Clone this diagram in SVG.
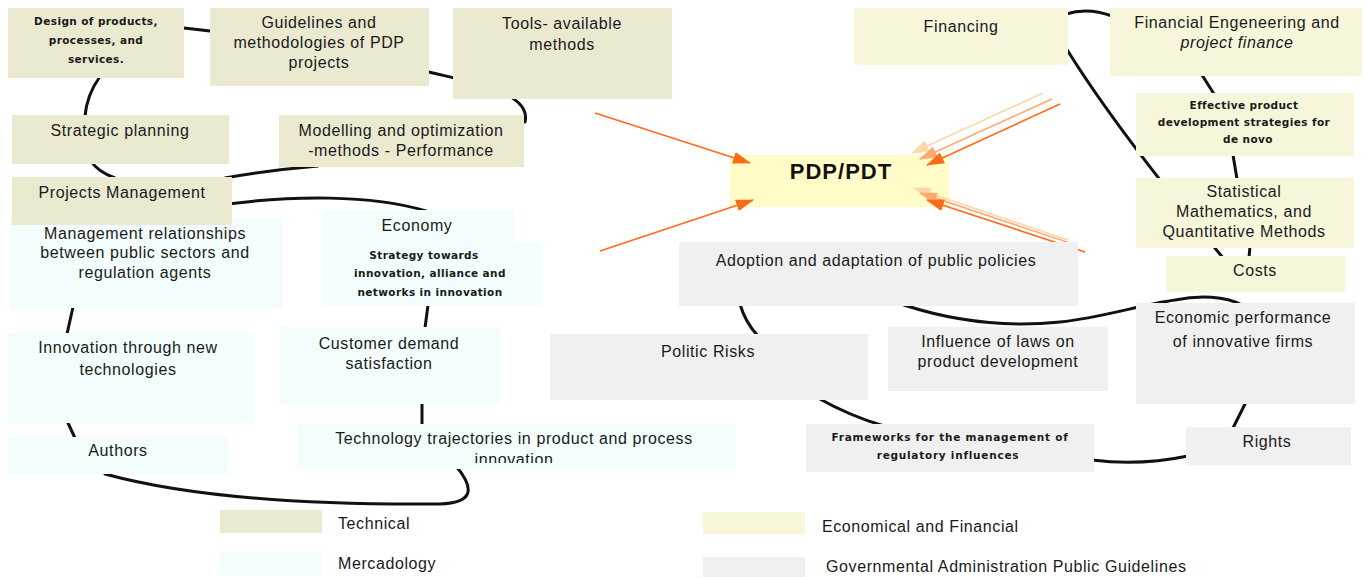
<svg xmlns="http://www.w3.org/2000/svg" width="1365" height="577" viewBox="0 0 1365 577">
<style>
.tech{fill:#EBE9D0}
.merc{fill:#F3FDFE}
.econ{fill:#F8F6DA}
.gov{fill:#F0F0F0}
.pdp{fill:#FFFCC8}
.t{font-family:"Liberation Sans",Arial,sans-serif;font-size:16px;fill:#1a1a1a;text-anchor:middle;letter-spacing:0.6px}
.ti{font-style:italic}
.s{font-family:"DejaVu Sans",Verdana,sans-serif;font-weight:bold;font-size:10.5px;fill:#1a1a1a;text-anchor:middle;letter-spacing:0.4px}
.sw{letter-spacing:0.75px}
.lg{font-family:"Liberation Sans",Arial,sans-serif;font-size:16px;fill:#1a1a1a;letter-spacing:0.6px}
.pt{font-family:"Liberation Sans",Arial,sans-serif;font-weight:bold;font-size:22px;fill:#111;text-anchor:middle;letter-spacing:1px}
.c{fill:none;stroke:#111;stroke-width:3;stroke-linecap:round}
.a1{fill:none;stroke:#FF6A18;stroke-width:1.6}
.a2{fill:none;stroke:#FFAA70;stroke-width:1.6}
.a3{fill:none;stroke:#FFD6A6;stroke-width:1.6}
</style>
<defs>
<marker id="h1" viewBox="0 0 18 12" refX="17" refY="6" markerWidth="18" markerHeight="12" markerUnits="userSpaceOnUse" orient="auto"><path d="M0,0 L18,6 L0,12 z" fill="#FF6A18"/></marker>
<marker id="h2" viewBox="0 0 18 12" refX="17" refY="6" markerWidth="18" markerHeight="12" markerUnits="userSpaceOnUse" orient="auto"><path d="M0,0 L18,6 L0,12 z" fill="#FFAA70"/></marker>
<marker id="h3" viewBox="0 0 18 12" refX="17" refY="6" markerWidth="18" markerHeight="12" markerUnits="userSpaceOnUse" orient="auto"><path d="M0,0 L18,6 L0,12 z" fill="#FFD6A6"/></marker>
<clipPath id="clipTech"><rect x="297" y="424" width="439" height="39"/></clipPath>
</defs>
<rect width="1365" height="577" fill="#ffffff"/>

<g id="node-pdp">
<rect class="pdp" x="730" y="155" width="219" height="52"/>
<text class="pt" x="841" y="179">PDP/PDT</text>
</g>

<g id="connectors">
<path class="c" d="M184 28 L210 31"/>
<path class="c" d="M429 72 C470 82 532 92 525 122"/>
<path class="c" d="M99 78 Q87 95 85 116"/>
<path class="c" d="M90 160 Q98 172 115 178"/>
<path class="c" d="M225 178 Q270 170 318 166"/>
<path class="c" d="M228 204 C290 196 370 194 426 211"/>
<path class="c" d="M73 307 L67 334"/>
<path class="c" d="M68 423 L75 438"/>
<path class="c" d="M105 474 C200 500 330 505 440 504 C472 503 476 490 456 466"/>
<path class="c" d="M428 305 L425 328"/>
<path class="c" d="M422 403 L422 425"/>
<path class="c" d="M1066 14 Q1088 7 1112 16"/>
<path class="c" d="M1066 48 C1095 95 1150 170 1224 259"/>
<path class="c" d="M1202 75 L1214 94"/>
<path class="c" d="M1233 155 L1237 179"/>
<path class="c" d="M1250 246 L1249 258"/>
<path class="c" d="M904 305 C950 320 1000 328 1060 322 C1100 318 1140 305 1175 300 C1200 295 1225 296 1242 305"/>
<path class="c" d="M1246 402 L1233 428"/>
<path class="c" d="M1092 460 Q1140 466 1188 456"/>
<path class="c" d="M818 398 Q850 416 884 426"/>
<path class="c" d="M740 304 Q745 322 758 336"/>
<path class="a1" d="M595 113 L750 163" marker-end="url(#h1)"/>
<path class="a1" d="M600 251 L753 200" marker-end="url(#h1)"/>
<path class="a3" d="M1043 93 L912 153" marker-end="url(#h3)"/>
<path class="a2" d="M1052 99 L920 159" marker-end="url(#h2)"/>
<path class="a1" d="M1060 104 L927 165" marker-end="url(#h1)"/>
<path class="a3" d="M1068 240 L914 188" marker-end="url(#h3)"/>
<path class="a2" d="M1076 245 L920 193" marker-end="url(#h2)"/>
<path class="a1" d="M1085 252 L927 200" marker-end="url(#h1)"/>
</g>

<g id="node-design">
<rect class="tech" x="8" y="8" width="176" height="70"/>
<text class="s" x="96" y="25">Design of products,</text>
<text class="s" x="96" y="44">processes, and</text>
<text class="s" x="96" y="63">services.</text>
</g>
<g id="node-guidelines">
<rect class="tech" x="210" y="8" width="219" height="78"/>
<text class="t" x="319" y="28">Guidelines and</text>
<text class="t" x="319" y="48">methodologies of PDP</text>
<text class="t" x="319" y="68">projects</text>
</g>
<g id="node-tools">
<rect class="tech" x="453" y="8" width="219" height="91"/>
<text class="t" x="562" y="29">Tools- available</text>
<text class="t" x="562" y="50">methods</text>
</g>
<g id="node-strategic">
<rect class="tech" x="12" y="115" width="217" height="49"/>
<text class="t" x="120" y="136">Strategic planning</text>
</g>
<g id="node-modelling">
<rect class="tech" x="279" y="115" width="245" height="52"/>
<text class="t" x="401" y="136">Modelling and optimization</text>
<text class="t" x="401" y="156">-methods - Performance</text>
</g>
<g id="node-mgmt-rel">
<rect class="merc" x="10" y="218" width="273" height="90"/>
<text class="t" x="145" y="239">Management relationships</text>
<text class="t" x="145" y="258">between public sectors and</text>
<text class="t" x="145" y="278">regulation agents</text>
</g>
<g id="node-projects">
<rect class="tech" x="12" y="177" width="220" height="48"/>
<text class="t" x="122" y="198">Projects Management</text>
</g>
<g id="node-economy">
<rect class="merc" x="322" y="210" width="193" height="40"/>
<text class="t" x="417" y="231">Economy</text>
</g>
<g id="node-strategy">
<rect class="merc" x="322" y="242" width="220" height="64"/>
<text class="s" x="424" y="259">Strategy towards</text>
<text class="s" x="430" y="277">innovation, alliance and</text>
<text class="s" x="430" y="296">networks in innovation</text>
</g>
<g id="node-innovation">
<rect class="merc" x="8" y="333" width="246" height="90"/>
<text class="t" x="128" y="353">Innovation through new</text>
<text class="t" x="128" y="375">technologies</text>
</g>
<g id="node-customer">
<rect class="merc" x="280" y="327" width="221" height="77"/>
<text class="t" x="389" y="349">Customer demand</text>
<text class="t" x="389" y="369">satisfaction</text>
</g>
<g id="node-authors">
<rect class="merc" x="8" y="437" width="220" height="37"/>
<text class="t" x="118" y="456">Authors</text>
</g>
<g id="node-technology">
<rect class="merc" x="297" y="424" width="439" height="45"/>
<g clip-path="url(#clipTech)">
<text class="t" x="514" y="444">Technology trajectories in product and process</text>
<text class="t" x="514" y="465">innovation</text>
</g>
</g>

<g id="node-financing">
<rect class="econ" x="854" y="8" width="214" height="57"/>
<text class="t" x="961" y="32">Financing</text>
</g>
<g id="node-fin-eng">
<rect class="econ" x="1110" y="8" width="252" height="68"/>
<text class="t" x="1237" y="28">Financial Engeneering and</text>
<text class="t ti" x="1237" y="48">project finance</text>
</g>
<g id="node-effective">
<rect class="econ" x="1136" y="93" width="218" height="63"/>
<text class="s" x="1244" y="109">Effective product</text>
<text class="s" x="1244" y="126">development strategies for</text>
<text class="s" x="1248" y="143">de novo</text>
</g>
<g id="node-statistical">
<rect class="econ" x="1136" y="178" width="218" height="70"/>
<text class="t" x="1244" y="197">Statistical</text>
<text class="t" x="1244" y="217">Mathematics, and</text>
<text class="t" x="1244" y="237">Quantitative Methods</text>
</g>
<g id="node-costs">
<rect class="econ" x="1166" y="256" width="179" height="36"/>
<text class="t" x="1255" y="276">Costs</text>
</g>

<g id="node-adoption">
<rect class="gov" x="679" y="242" width="399" height="64"/>
<text class="t" x="876" y="266">Adoption and adaptation of public policies</text>
</g>
<g id="node-politic">
<rect class="gov" x="550" y="334" width="318" height="66"/>
<text class="t" x="708" y="357">Politic Risks</text>
</g>
<g id="node-influence">
<rect class="gov" x="888" y="327" width="220" height="64"/>
<text class="t" x="998" y="347">Influence of laws on</text>
<text class="t" x="998" y="367">product development</text>
</g>
<g id="node-econ-perf">
<rect class="gov" x="1136" y="303" width="219" height="101"/>
<text class="t" x="1243" y="323">Economic performance</text>
<text class="t" x="1243" y="347">of innovative firms</text>
</g>
<g id="node-frameworks">
<rect class="gov" x="806" y="424" width="288" height="48"/>
<text class="s sw" x="950" y="441">Frameworks for the management  of</text>
<text class="s sw" x="948" y="459">regulatory influences</text>
</g>
<g id="node-rights">
<rect class="gov" x="1186" y="427" width="165" height="38"/>
<text class="t" x="1267" y="447">Rights</text>
</g>

<g id="legend">
<rect class="tech" x="220" y="510" width="102" height="23"/>
<text class="lg" x="338" y="529">Technical</text>
<rect class="merc" x="220" y="551" width="102" height="24"/>
<text class="lg" x="338" y="569">Mercadology</text>
<rect class="econ" x="703" y="512" width="102" height="22"/>
<text class="lg" x="822" y="532">Economical and Financial</text>
<rect class="gov" x="703" y="557" width="102" height="20"/>
<text class="lg" x="826" y="572">Governmental Administration Public Guidelines</text>
</g>
</svg>
